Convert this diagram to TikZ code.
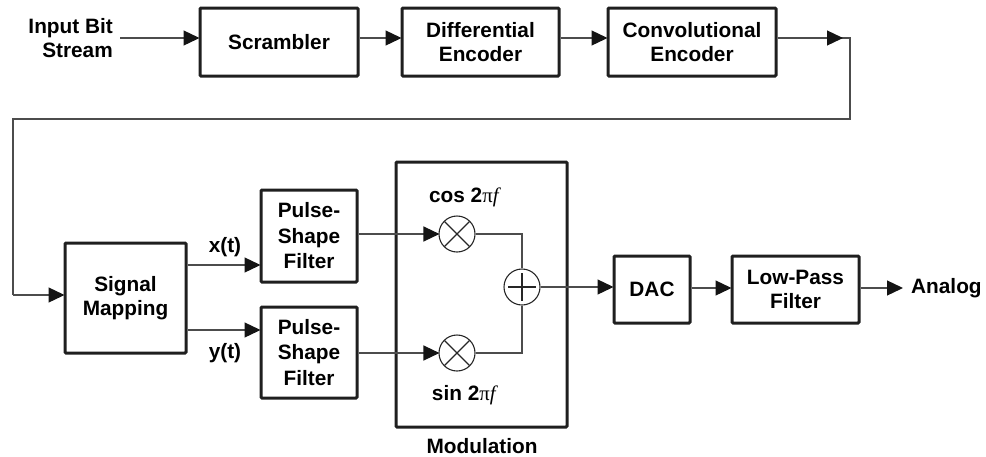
\documentclass[tikz,border=0pt]{standalone}
\usepackage{fontspec}
\setmainfont{Liberation Sans}
\newfontfamily\serfont{Liberation Serif}
\usetikzlibrary{arrows.meta,calc}
\begin{document}
\begin{tikzpicture}[x=1pt,y=-1pt,
  font=\fontsize{20.8}{24.5}\selectfont\bfseries,
  box/.style={draw=black!88, line width=3pt, inner sep=0pt, align=center, rounded corners=1pt},
  wire/.style={draw=black!70, line width=1.3pt},
  arr/.style={wire, -{Triangle[length=16pt,width=15pt,color=black!92]}, shorten >=-1pt},
  opcirc/.style={circle, draw=black!85, line width=1.1pt, minimum size=36pt, inner sep=0pt},
  lbl/.style={inner sep=0pt, align=center}
]
\useasboundingbox (0,0) rectangle (986,456);

% top row
\node[lbl, align=right, anchor=east] (inp) at (113,38) {Input Bit\\Stream};
\node[box, minimum width=158pt, minimum height=68pt] (scr) at (279,42) {Scrambler};
\node[box, minimum width=157pt, minimum height=68pt] (dif) at (480.5,42) {Differential\\Encoder};
\node[box, minimum width=168pt, minimum height=68pt] (cnv) at (692,42) {Convolutional\\Encoder};

\coordinate (k1) at (850,38);
\coordinate (k2) at (850,119);
\coordinate (k3) at (13,119);
\coordinate (k4) at (13,295);

\draw[arr] ([xshift=7pt]inp.east |- k1) -- (scr.west |- k1);
\draw[arr] (scr.east |- k1) -- (dif.west |- k1);
\draw[arr] (dif.east |- k1) -- (cnv.west |- k1);

% lower row
\node[box, minimum width=121pt, minimum height=110pt] (sm) at (125.5,298) {Signal\\Mapping};
\node[box, minimum width=96pt, minimum height=92pt, font=\fontsize{20.8}{25.5}\selectfont\bfseries] (pf1) at (309,236) {Pulse-\\Shape\\Filter};
\node[box, minimum width=96pt, minimum height=91pt, font=\fontsize{20.8}{25.5}\selectfont\bfseries] (pf2) at (309,352.5) {Pulse-\\Shape\\Filter};
\node[box, minimum width=171pt, minimum height=265pt] (mod) at (481.5,294.5) {};
\node[lbl] (modl) at (482,446) {Modulation};

\node[opcirc] (m1) at (457,234) {};
\node[opcirc] (m2) at (457,353) {};
\node[opcirc] (sum) at (522,287) {};
\draw[line width=1.1pt, black!85] ($(m1)+(-12.5,-12.5)$) -- ($(m1)+(12.5,12.5)$) ($(m1)+(-12.5,12.5)$) -- ($(m1)+(12.5,-12.5)$);
\draw[line width=1.1pt, black!85] ($(m2)+(-12.5,-12.5)$) -- ($(m2)+(12.5,12.5)$) ($(m2)+(-12.5,12.5)$) -- ($(m2)+(12.5,-12.5)$);
\draw[line width=1.1pt, black!85] ($(sum)+(-14,0)$) -- ($(sum)+(14,0)$) ($(sum)+(0,-14)$) -- ($(sum)+(0,14)$);

\node[lbl] (cosl) at (465,197) {cos 2{\serfont\mdseries π\textit{f}}};
\node[lbl] (sinl) at (465,395) {sin 2{\serfont\mdseries π\textit{f}}};

\node[box, minimum width=76pt, minimum height=67pt] (dac) at (652,289.5) {DAC};
\node[box, minimum width=127pt, minimum height=67pt] (lpf) at (795.5,289.5) {Low-Pass\\Filter};
\node[lbl, anchor=west] (ana) at (911,288) {Analog};

\node[lbl] (xl) at (225,247) {x(t)};
\node[lbl] (yl) at (225,353) {y(t)};

% feedback wire
\draw[wire] (cnv.east |- k1) -- (k1) -- (k2) -- (k3) -- (k4);
\draw[arr] (cnv.east |- k1) -- ([xshift=-8pt]k1);
\draw[arr] (k4) -- (sm.west |- k4);

\draw[arr] (sm.east |- 0,265) -- (pf1.west |- 0,265);
\draw[arr] (sm.east |- 0,330) -- (pf2.west |- 0,330);
\draw[arr] (pf1.east |- m1) -- (m1.west);
\draw[arr] (pf2.east |- m2) -- (m2.west);
\draw[wire] (m1.east) -| (sum.north);
\draw[wire] (m2.east) -| (sum.south);
\draw[arr] (sum.east) -- (dac.west |- sum);
\draw[arr] (dac.east |- 0,288) -- (lpf.west |- 0,288);
\draw[arr] (lpf.east |- ana) -- ([xshift=-9pt]ana.west);
\end{tikzpicture}
\end{document}
